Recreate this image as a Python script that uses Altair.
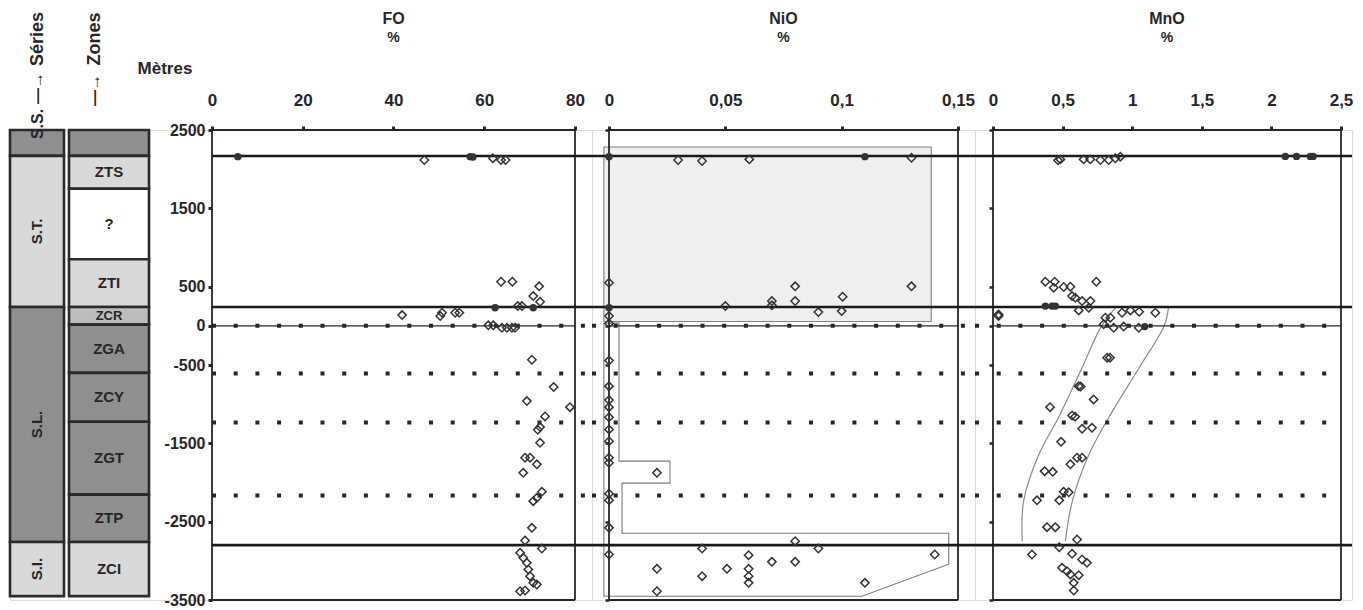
import altair as alt
import pandas as pd

# ---------------- depth (metres) ----------------
depth_ticks = [2500, 1500, 500, 0, -500, -1500, -2500, -3500]
solid_levels = [2168, 240, -2800]
dotted_levels = [0, -610, -1235, -2165]

# ---------------- Séries / Zones columns ----------------
series_names = ["S.S.", "S.T.", "S.L.", "S.I."]
series_top = [2500, 2170, 240, -2760]
series_bottom = [2170, 240, -2760, -3450]
series_shade = ["dark", "light", "dark", "light"]

zone_names = ["", "ZTS", "?", "ZTI", "ZCR", "ZGA", "ZCY", "ZGT", "ZTP", "ZCI"]
zone_top = [2500, 2170, 1750, 850, 240, 15, -600, -1225, -2155, -2760]
zone_bottom = [2170, 1750, 850, 240, 15, -600, -1225, -2155, -2760, -3450]
zone_shade = ["dark", "light", "white", "light", "mid", "dark", "dark", "dark", "dark", "light"]

# ---------------- FO % ----------------
fo_value = [5.7, 46.8, 56.9, 57.5, 61.9, 63.7, 64.7,
            63.7, 66.2, 72.1, 70.8, 72.3, 62.4, 67.4, 68.3, 70.8,
            41.9, 50.3, 50.7, 53.6, 54.5,
            60.9, 62.0, 63.9, 65.0, 66.1, 66.8,
            70.5, 75.3, 69.4, 78.9, 73.4, 71.8, 72.3, 72.3, 69.0, 70.1, 71.6, 68.6,
            72.7, 71.6, 70.8, 70.5, 69.0, 72.7,
            67.9, 68.6, 69.4, 69.7, 70.1, 70.8, 71.6, 67.9, 69.0]
fo_depth = [2160, 2117, 2160, 2155, 2140, 2117, 2117,
            563, 563, 504, 380, 307, 230, 252, 252, 230,
            137, 125, 167, 167, 167,
            6, 6, -25, -25, -25, -25,
            -433, -782, -961, -1038, -1157, -1327, -1293, -1493, -1683, -1683, -1768, -1876,
            -2119, -2196, -2238, -2579, -2741, -2843,
            -2898, -2962, -3026, -3110, -3196, -3281, -3302, -3388, -3379]
fo_filled = [1, 0, 1, 1, 0, 0, 0,
             0, 0, 0, 0, 0, 1, 0, 0, 1,
             0, 0, 0, 0, 0,
             0, 0, 0, 0, 0, 0,
             0, 0, 0, 0, 0, 0, 0, 0, 0, 0, 0, 0,
             0, 0, 0, 0, 0, 0,
             0, 0, 0, 0, 0, 0, 0, 0, 0]

# ---------------- NiO % ----------------
nio_value = [0.0, 0.0297, 0.040, 0.0603, 0.110, 0.130,
             0.0, 0.080, 0.130, 0.1004, 0.070, 0.080, 0.050, 0.070, 0.090, 0.100,
             0.0, 0.0, 0.0,
             0.0, 0.0, 0.0, 0.0, 0.0, 0.0, 0.0, 0.0, 0.0, 0.0, 0.0, 0.0, 0.0,
             0.0206, 0.080, 0.090, 0.040, 0.060, 0.070, 0.080, 0.140,
             0.0206, 0.0507, 0.060, 0.040, 0.060, 0.060, 0.110, 0.0206]
nio_depth = [2160, 2117, 2104, 2125, 2160, 2146,
             550, 504, 504, 371, 316, 316, 252, 262, 176, 188,
             230, 125, 30,
             -443, -770, -948, -1038, -1166, -1323, -1473, -1683, -1748, -2143, -2227, -2579, -2919,
             -1876, -2749, -2843, -2843, -2928, -3013, -3013, -2919,
             -3102, -3102, -3102, -3196, -3196, -3281, -3281, -3388]
nio_filled = [1, 0, 0, 0, 1, 0,
              0, 0, 0, 0, 0, 0, 0, 0, 0, 0,
              1, 0, 0,
              0, 0, 0, 0, 0, 0, 0, 0, 0, 0, 0, 0, 0,
              0, 0, 0, 0, 0, 0, 0, 0,
              0, 0, 0, 0, 0, 0, 0, 0]
# NiO envelopes
nio_box_x = [-0.0022, 0.1385]
nio_box_depth = [2283, 56]
nio_poly_x = [-0.0022, 0.0043, 0.0043, 0.0262, 0.0262, 0.0056, 0.0056, 0.146, 0.146, 0.1087, -0.0022, -0.0022]
nio_poly_depth = [35, 35, -1727, -1727, -2008, -2008, -2647, -2647, -3043, -3452, -3452, 35]

# ---------------- MnO % ----------------
mno_value = [0.467, 0.484, 0.651, 0.699, 0.771, 0.831, 0.879, 0.915, 2.10, 2.18, 2.28, 2.30,
             0.376, 0.443, 0.436, 0.508, 0.556, 0.742, 0.568, 0.591, 0.64, 0.70, 0.616, 0.688, 0.376, 0.424, 0.448,
             0.927, 0.987, 1.05, 1.166, 0.807, 0.843, 0.795, 0.867, 0.939, 1.047, 1.09, 0.04, 0.04,
             0.82, 0.84, 0.616, 0.63, 0.723, 0.41, 0.568, 0.59, 0.64, 0.711, 0.489, 0.556, 0.604, 0.64, 0.371, 0.429,
             0.508, 0.544, 0.476, 0.316, 0.388, 0.448, 0.604, 0.476, 0.28, 0.568, 0.64, 0.675, 0.496, 0.532, 0.556,
             0.616, 0.58, 0.58]
mno_depth = [2113, 2125, 2125, 2125, 2117, 2117, 2139, 2160, 2163, 2163, 2163, 2163,
             563, 563, 487, 496, 500, 563, 380, 358, 316, 316, 197, 230, 252, 252, 252,
             167, 197, 180, 167, 104, 104, 20, -25, -10, -25, -10, 146, 125,
             -407, -407, -770, -775, -940, -1038, -1145, -1160, -1315, -1302, -1481, -1768, -1683, -1683, -1855, -1864,
             -2119, -2125, -2228, -2228, -2570, -2570, -2728, -2826, -2919, -2910, -2983, -3026, -3089, -3132, -3174,
             -3183, -3281, -3379]
mno_filled = [0, 0, 0, 0, 0, 0, 0, 0, 1, 1, 1, 1,
              0, 0, 0, 0, 0, 0, 0, 0, 0, 0, 0, 0, 1, 1, 1,
              0, 0, 0, 0, 0, 0, 0, 0, 0, 0, 1, 0, 0,
              0, 0, 0, 0, 0, 0, 0, 0, 0, 0, 0, 0, 0, 0, 0, 0,
              0, 0, 0, 0, 0, 0, 0, 0, 0, 0, 0, 0, 0, 0, 0,
              0, 0, 0]
# MnO envelope (two curves)
mno_band_depth = [230, 0, -535, -1174, -1640, -2238, -2749]
mno_band_left = [0.88, 0.78, 0.64, 0.47, 0.33, 0.22, 0.21]
mno_band_right = [1.26, 1.23, 1.05, 0.83, 0.69, 0.57, 0.52]

# ---------------- styling ----------------
INK = "#262626"
FONT = "Liberation Sans"
H = 470
DEPTH = alt.Scale(domain=[-3500, 2500], nice=False, zero=False)
SHADES = alt.Scale(domain=["dark", "mid", "light", "white"],
                   range=["#8f8f8f", "#bdbdbd", "#d9d9d9", "#ffffff"])


def xaxis(values):
    return alt.Axis(orient="top", values=values, title=None, grid=False, domain=False,
                    ticks=True, tickSize=4, tickWidth=3, tickColor=INK,
                    labelExpr="replace(toString(datum.value), '.', ',')",
                    labelFont=FONT, labelFontSize=17, labelFontWeight="bold", labelColor=INK,
                    labelPadding=17, labelFlush=False, labelOverlap=False)


main_yaxis = alt.Axis(orient="left", values=depth_ticks, title=None, grid=False, domain=False,
                      ticks=True, tickSize=4, tickWidth=3, tickColor=INK,
                      labelExpr="toString(datum.value)",
                      labelFont=FONT, labelFontSize=16, labelFontWeight="bold", labelColor=INK,
                      labelPadding=3, labelFlush=False, labelOverlap=False)


def minor_yaxis(off):
    return alt.Axis(orient="left", values=depth_ticks, title=None, grid=False, domain=False,
                    labels=False, ticks=True, tickSize=4, tickWidth=2.5, tickColor=INK, offset=off)


def panel(name, values, depths, filled, xdomain, xmax, xticks, width, yax, back_layers=()):
    xs = alt.Scale(domain=xdomain, nice=False, zero=False)
    xa = xaxis(xticks)

    def X(f):
        return alt.X(f, type="quantitative", scale=xs, axis=xa)

    def Y(f):
        return alt.Y(f, type="quantitative", scale=DEPTH, axis=yax)

    pts = pd.DataFrame({"v": values, "d": depths, "f": filled})
    frame = pd.DataFrame({"x": [0, xmax, 0, 0], "x2": [0, xmax, xmax, xmax],
                          "y": [2500, 2500, 2500, -3500], "y2": [-3500, -3500, 2500, -3500]})
    solid = pd.DataFrame({"y": solid_levels})
    solid["x"] = xdomain[0]
    solid["x2"] = xdomain[1]
    dot_end = xdomain[1] if name != "MnO" else xmax
    dotted = pd.DataFrame({"y": dotted_levels})
    dotted["x"] = xdomain[0]
    dotted["x2"] = dot_end
    zero = pd.DataFrame({"x": [0], "x2": [xmax], "y": [0]})
    ttl = pd.DataFrame({"x": [xmax / 2], "t": [name]})

    layers = [lay(X, Y) for lay in back_layers]
    layers += [
        alt.Chart(frame).mark_rule(color=INK, strokeWidth=1.8).encode(
            x=X("x"), x2="x2", y=Y("y"), y2="y2"),
        alt.Chart(zero).mark_rule(color=INK, strokeWidth=1.2).encode(x=X("x"), x2="x2", y=Y("y")),
        alt.Chart(dotted).mark_rule(color=INK, strokeWidth=4, strokeDash=[4, 17.7]).encode(
            x=X("x"), x2="x2", y=Y("y")),
        alt.Chart(solid).mark_rule(color="#1a1a1a", strokeWidth=2.6).encode(
            x=X("x"), x2="x2", y=Y("y")),
        alt.Chart(pts).transform_filter("datum.f == 0").mark_point(
            shape="diamond", filled=False, size=70, strokeWidth=1.5, color="#333333", opacity=1).encode(
            x=X("v"), y=Y("d")),
        alt.Chart(pts).transform_filter("datum.f == 1").mark_point(
            shape="circle", filled=True, size=55, color="#333333", opacity=1).encode(
            x=X("v"), y=Y("d")),
        alt.Chart(ttl).mark_text(font=FONT, fontSize=16, fontWeight="bold", color=INK, dy=-111).encode(
            x=X("x"), y=alt.value(0), text="t:N"),
        alt.Chart(ttl).transform_calculate(p="'%'").mark_text(
            font=FONT, fontSize=14, fontWeight="bold", color=INK, dy=-92).encode(
            x=X("x"), y=alt.value(0), text="p:N"),
    ]
    return alt.layer(*layers).properties(width=width, height=H)


# ---- NiO background envelopes ----
def nio_back_box(X, Y):
    df = pd.DataFrame({"x": [nio_box_x[0]], "x2": [nio_box_x[1]],
                       "y": [nio_box_depth[0]], "y2": [nio_box_depth[1]]})
    return alt.Chart(df).mark_rect(fill="#efefef", stroke="#808080", strokeWidth=1.1).encode(
        x=X("x"), x2="x2", y=Y("y"), y2="y2")


def nio_back_fill(X, Y):
    right = pd.DataFrame({"x2": nio_poly_x[1:10], "y": nio_poly_depth[1:10]})
    right["x"] = nio_poly_x[0]
    right["i"] = range(len(right))
    return alt.Chart(right).mark_area(orient="horizontal", color="#ededed", opacity=1).encode(
        y=Y("y"), x=X("x"), x2="x2", order="i:Q")


def nio_back_outline(X, Y):
    df = pd.DataFrame({"x": nio_poly_x, "y": nio_poly_depth, "i": range(len(nio_poly_x))})
    return alt.Chart(df).mark_line(color="#7a7a7a", strokeWidth=1.1).encode(
        x=X("x"), y=Y("y"), order="i:Q")


def mno_band(X, Y):
    df = pd.concat([
        pd.DataFrame({"x": mno_band_left, "y": mno_band_depth, "side": "left"}),
        pd.DataFrame({"x": mno_band_right, "y": mno_band_depth, "side": "right"}),
    ])
    return alt.Chart(df).mark_line(color="#8a8a8a", strokeWidth=1.2, interpolate="catmull-rom").encode(
        x=X("x"), y=Y("y"), detail="side:N", order=alt.Order("y:Q", sort="descending"))


fo = panel("FO", fo_value, fo_depth, fo_filled, [0, 83.75], 80, [0, 20, 40, 60, 80], 380, main_yaxis)
nio = panel("NiO", nio_value, nio_depth, nio_filled, [-0.00731, 0.1573], 0.15,
            [0, 0.05, 0.1, 0.15], 383, minor_yaxis(-17),
            back_layers=(nio_back_box, nio_back_fill, nio_back_outline))
mno = panel("MnO", mno_value, mno_depth, mno_filled, [-0.1293, 2.579], 2.5,
            [0, 0.5, 1, 1.5, 2, 2.5], 377, minor_yaxis(-18),
            back_layers=(mno_band,))

# ---- left columns ----
CX = alt.Scale(domain=[0, 202], nice=False, zero=False)
ser = pd.DataFrame({"name": series_names, "top": series_top, "bot": series_bottom, "shade": series_shade})
ser["x0"] = 0
ser["x1"] = 54
ser["mid"] = (ser["top"] + ser["bot"]) / 2
zon = pd.DataFrame({"name": zone_names, "top": zone_top, "bot": zone_bottom, "shade": zone_shade})
zon["x0"] = 59
zon["x1"] = 139
zon["mid"] = (zon["top"] + zon["bot"]) / 2


def CXe(f):
    return alt.X(f, type="quantitative", scale=CX, axis=None)


def CYe(f):
    return alt.Y(f, type="quantitative", scale=DEPTH, axis=None)


def label(text, x, y, size, angle=0, weight="bold"):
    kw = dict(font=FONT, fontSize=size, fontWeight=weight, color=INK)
    if angle:
        kw["angle"] = angle
    return alt.Chart(pd.DataFrame({"t": [text]})).mark_text(**kw).encode(
        x=alt.value(x), y=alt.value(y), text="t:N")


rect_enc = dict(x=CXe("x0"), x2="x1", y=CYe("top"), y2="bot",
                fill=alt.Fill("shade:N", scale=SHADES, legend=None))
cols = alt.layer(
    alt.Chart(ser).mark_rect(stroke="#2a2a2a", strokeWidth=2.6).encode(**rect_enc),
    alt.Chart(zon).mark_rect(stroke="#2a2a2a", strokeWidth=2.6).encode(**rect_enc),
    alt.Chart(ser).transform_filter("datum.name != 'S.S.'").mark_text(
        font=FONT, fontSize=15, fontWeight="bold", color=INK, angle=270).encode(
        x=alt.value(27), y=CYe("mid"), text="name:N"),
    alt.Chart(zon).transform_filter("datum.name != 'ZCR'").mark_text(
        font=FONT, fontSize=15, fontWeight="bold", color=INK).encode(
        x=alt.value(99), y=CYe("mid"), text="name:N"),
    alt.Chart(zon).transform_filter("datum.name == 'ZCR'").mark_text(
        font=FONT, fontSize=13, fontWeight="bold", color=INK).encode(
        x=alt.value(99), y=CYe("mid"), text="name:N"),
    label("S.S.", 28, -6, 16, 270),
    label("\u2014\u2192", 28, -42, 16, 270),
    label("Séries", 28, -91, 18, 270),
    label("\u2014\u2192", 85, -40, 16, 270),
    label("Zones", 85, -91, 18, 270),
    label("Mètres", 155, -61, 17),
).properties(width=202, height=H)

chart = alt.hconcat(cols, fo, nio, mno, spacing=0, bounds="flush").resolve_scale(
    x="independent", y="independent", fill="independent"
).properties(
    padding={"left": 0, "top": 2, "right": 0, "bottom": 0}
).configure_view(stroke=None).configure(background="white")

chart.save("out.html", embed_options={"renderer": "svg", "actions": False})
